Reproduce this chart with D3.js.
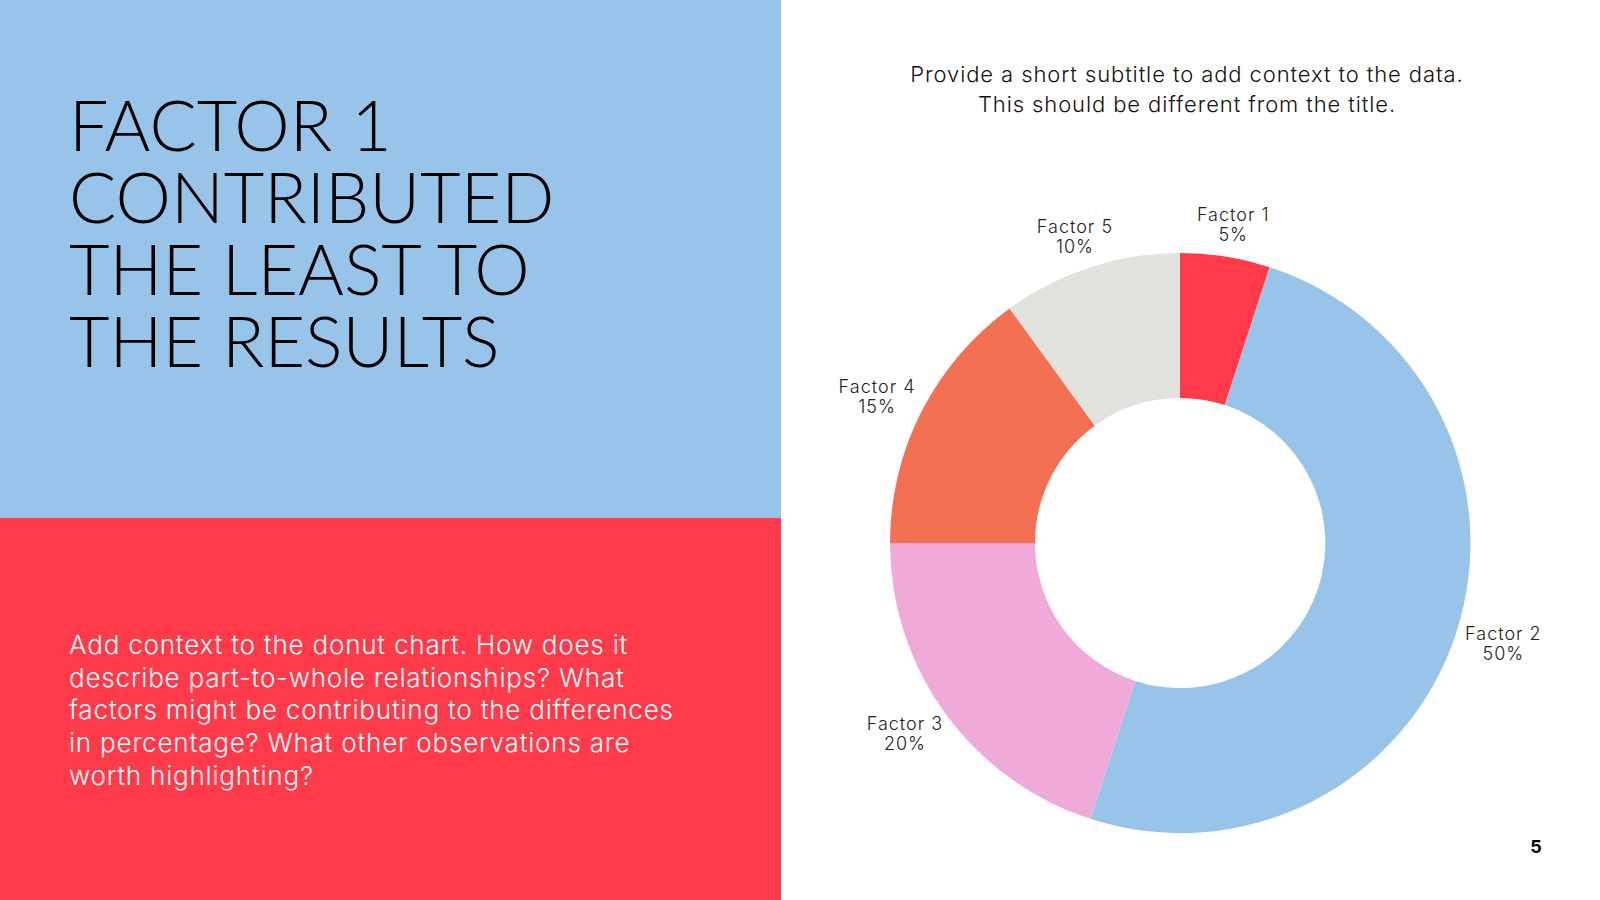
<!DOCTYPE html>
<html>
<head>
<meta charset="utf-8">
<script src="https://cdn.jsdelivr.net/npm/d3@7"></script>
<style>
  body { margin: 0; background: #fff; }
  svg { display: block; font-family: Inter, Lato, sans-serif; }
</style>
</head>
<body>
<div id="chart"></div>
<script>
// chart data
var factors = ['Factor 1', 'Factor 2', 'Factor 3', 'Factor 4', 'Factor 5'];
var shares = [5, 50, 20, 15, 10];
var sliceColors = ['#ff3a4a', '#99c4ea', '#f0aad9', '#f37052', '#e2e3df'];

var titleLines = ['FACTOR 1', 'CONTRIBUTED', 'THE LEAST TO', 'THE RESULTS'];
var bodyLines = [
  'Add context to the donut chart. How does it',
  'describe part-to-whole relationships? What',
  'factors might be contributing to the differences',
  'in percentage? What other observations are',
  'worth highlighting?'
];
var subtitleLines = [
  'Provide a short subtitle to add context to the data.',
  'This should be different from the title.'
];

var width = 1600, height = 900;
var panelWidth = 781, splitY = 518;

var svg = d3.select('#chart').append('svg')
  .attr('width', width)
  .attr('height', height);

// left panels
svg.append('rect').attr('x', 0).attr('y', 0)
  .attr('width', panelWidth).attr('height', splitY).attr('fill', '#99c4ea');
svg.append('rect').attr('x', 0).attr('y', splitY)
  .attr('width', panelWidth).attr('height', height - splitY).attr('fill', '#ff3a4a');

svg.append('g').selectAll('text')
  .data(titleLines)
  .enter().append('text')
  .attr('x', 69)
  .attr('y', (d, i) => 151 + i * 72)
  .style('font-family', 'Lato, sans-serif')
  .style('font-size', '70px')
  .style('font-weight', 300)
  .attr('fill', '#000')
  .text(d => d);

svg.append('g').selectAll('text')
  .data(bodyLines)
  .enter().append('text')
  .attr('x', 69)
  .attr('y', (d, i) => 654 + i * 32.7)
  .style('font-size', '26px')
  .style('font-weight', 300)
  .style('letter-spacing', '0.8px')
  .attr('fill', '#fff')
  .text(d => d);

// subtitle
var cx = 1180, cy = 543;
svg.append('g').selectAll('text')
  .data(subtitleLines)
  .enter().append('text')
  .attr('x', 1187)
  .attr('y', (d, i) => 82 + i * 30)
  .style('text-anchor', 'middle')
  .style('font-size', '22px')
  .style('font-weight', 300)
  .style('letter-spacing', '0.9px')
  .attr('fill', '#111')
  .text(d => d);

// donut
var outer = 290, inner = 145;
var pie = d3.pie().sort(null).value(d => d.value);
var arcs = pie(factors.map((f, i) => ({name: f, value: shares[i], color: sliceColors[i]})));
var arc = d3.arc().innerRadius(inner).outerRadius(outer);

var g = svg.append('g').attr('transform', `translate(${cx},${cy})`);
g.selectAll('path')
  .data(arcs)
  .enter().append('path')
  .attr('d', arc)
  .attr('fill', d => d.data.color);

// outside labels, pushed out by half their box
var labelR = outer + 12, boxW = 76, boxH = 42;
var label = g.selectAll('.lbl')
  .data(arcs)
  .enter().append('g')
  .attr('class', 'lbl')
  .attr('transform', d => {
    var a = (d.startAngle + d.endAngle) / 2;
    var s = Math.sin(a), c = -Math.cos(a);
    var x = s * labelR + s * boxW / 2;
    var y = c * labelR + c * boxH / 2;
    return `translate(${x},${y})`;
  });
label.append('text')
  .attr('y', -3)
  .style('text-anchor', 'middle')
  .style('font-size', '18px')
  .style('font-weight', 300)
  .style('letter-spacing', '1px')
  .attr('fill', '#222')
  .text(d => d.data.name);
label.append('text')
  .attr('y', 17)
  .style('text-anchor', 'middle')
  .style('font-size', '18px')
  .style('font-weight', 300)
  .style('letter-spacing', '1px')
  .attr('fill', '#222')
  .text(d => d.data.value + '%');

// page number
svg.append('text')
  .attr('x', 1536).attr('y', 853)
  .style('text-anchor', 'middle')
  .style('font-size', '18px')
  .style('font-weight', 700)
  .text('5');
</script>
</body>
</html>
